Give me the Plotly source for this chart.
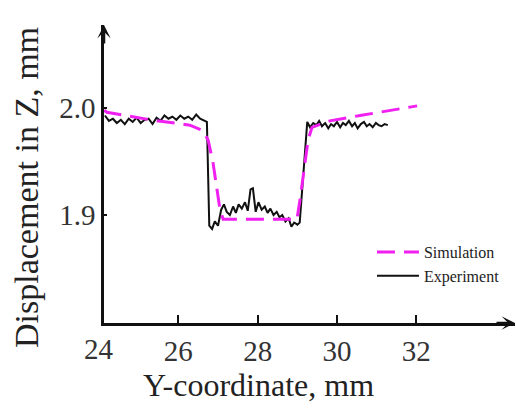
import plotly.graph_objects as go

# Simulation (magenta dashed)
sim_x = [24.13, 24.20, 25.29, 26.29, 26.62, 26.75, 26.87, 26.97, 27.05, 27.13, 28.99,
         29.07, 29.17, 29.27, 29.37, 29.82, 30.58, 32.02]
sim_y = [1.998, 1.996, 1.989, 1.984, 1.979, 1.970, 1.950, 1.925, 1.905, 1.896, 1.896,
         1.915, 1.945, 1.970, 1.982, 1.988, 1.993, 2.002]

# Experiment (black solid)
exp_x = [24.15, 24.25, 24.35, 24.45, 24.55, 24.65, 24.75, 24.85, 24.95, 25.05, 25.15,
         25.25, 25.35, 25.45, 25.55, 25.65, 25.75, 25.85, 25.95, 26.05, 26.15, 26.25,
         26.35, 26.45, 26.55, 26.65, 26.72, 26.78, 26.85, 26.92, 27.00, 27.08, 27.15,
         27.22, 27.30, 27.38, 27.45, 27.52, 27.60, 27.68, 27.75, 27.82, 27.88, 27.95,
         28.02, 28.10, 28.18, 28.25, 28.32, 28.40, 28.48, 28.55, 28.62, 28.70, 28.78,
         28.85, 28.92, 29.00, 29.06, 29.25, 29.32, 29.40, 29.48, 29.55, 29.62, 29.70,
         29.78, 29.85, 29.92, 30.00, 30.08, 30.15, 30.22, 30.30, 30.38, 30.45, 30.52,
         30.60, 30.68, 30.75, 30.82, 30.90, 30.98, 31.05, 31.12, 31.20, 31.28]
exp_y = [1.993, 1.988, 1.990, 1.986, 1.989, 1.985, 1.990, 1.987, 1.991, 1.986, 1.989,
         1.990, 1.985, 1.991, 1.988, 1.993, 1.990, 1.992, 1.989, 1.993, 1.990, 1.992,
         1.989, 1.994, 1.990, 1.988, 1.987, 1.890, 1.887, 1.894, 1.890, 1.905, 1.910,
         1.903, 1.900, 1.908, 1.902, 1.910, 1.906, 1.912, 1.904, 1.924, 1.925, 1.903,
         1.912, 1.905, 1.908, 1.902, 1.906, 1.900, 1.903, 1.898, 1.900, 1.894, 1.897,
         1.889, 1.893, 1.891, 1.893, 1.987, 1.982, 1.986, 1.984, 1.988, 1.983, 1.986,
         1.981, 1.985, 1.983, 1.987, 1.982, 1.986, 1.984, 1.988, 1.983, 1.986, 1.981,
         1.985, 1.987, 1.983, 1.985, 1.982, 1.986, 1.984, 1.983, 1.985, 1.984]

x_ticks = [26, 28, 30, 32]
x_origin_label = 24
y_ticks = [1.9, 2.0]
y_tick_text = ["1.9", "2.0"]
x_range = [24.126, 34.487]
y_range = [1.7991, 2.0776]

serif = "Liberation Serif, Times New Roman, serif"

fig = go.Figure()
fig.add_trace(go.Scatter(x=exp_x, y=exp_y, mode="lines", name="Experiment",
                         line=dict(color="#111111", width=2), legendrank=2))
fig.add_trace(go.Scatter(x=sim_x, y=sim_y, mode="lines", name="Simulation",
                         line=dict(color="#f020f0", width=3, dash="18px,9px"), legendrank=1))

fig.update_layout(
    width=516, height=410,
    margin=dict(l=104, r=1, t=25, b=87),
    plot_bgcolor="white", paper_bgcolor="white",
    font=dict(family=serif, color="#222222"),
    showlegend=True,
    legend=dict(x=0.652, y=0.295, xanchor="left", yanchor="top",
                font=dict(family=serif, size=16, color="#222222"),
                bgcolor="rgba(0,0,0,0)", itemwidth=42, tracegroupgap=0),
    xaxis=dict(range=x_range, tickvals=x_ticks, showgrid=False, zeroline=False,
               showline=True, linecolor="#111111", linewidth=2.5,
               ticks="inside", ticklen=8, tickwidth=2, tickcolor="#111111",
               tickfont=dict(family=serif, size=29, color="#333333")),
    yaxis=dict(range=y_range, tickvals=y_ticks, ticktext=y_tick_text,
               showgrid=False, zeroline=False,
               showline=True, linecolor="#111111", linewidth=2.5,
               ticks="inside", ticklen=3, tickwidth=2, tickcolor="#111111",
               tickfont=dict(family=serif, size=29, color="#333333")),
)

# "24" label at the origin (just outside the drawn range)
x24 = (x_origin_label - x_range[0]) / (x_range[1] - x_range[0])
fig.add_annotation(x=x24, xref="paper", y=0, yref="paper", text=str(x_origin_label),
                   showarrow=False, xanchor="center", yanchor="top", yshift=-8,
                   font=dict(family=serif, size=29, color="#333333"))
# Axis titles
fig.add_annotation(x=(258 - 104) / 411, xref="paper", y=-(385 - 323) / 298, yref="paper",
                   text="Y-coordinate, mm", showarrow=False, xanchor="center", yanchor="middle",
                   font=dict(family=serif, size=32, color="#222222"))
fig.add_annotation(x=-(104 - 26) / 411, xref="paper", y=(323 - 188) / 298, yref="paper",
                   text="Displacement in Z, mm", showarrow=False, textangle=-90,
                   xanchor="center", yanchor="middle",
                   font=dict(family=serif, size=34, color="#222222"))
# Axis arrowheads
fig.add_annotation(x=1, y=0, xref="paper", yref="paper", ax=-20, ay=0, text="",
                   showarrow=True, arrowhead=3, arrowsize=0.9, arrowwidth=2.5, arrowcolor="#111111")
fig.add_annotation(x=0, y=1, xref="paper", yref="paper", ax=0, ay=20, text="",
                   showarrow=True, arrowhead=3, arrowsize=0.9, arrowwidth=2.5, arrowcolor="#111111")

fig.write_html("out.html")
